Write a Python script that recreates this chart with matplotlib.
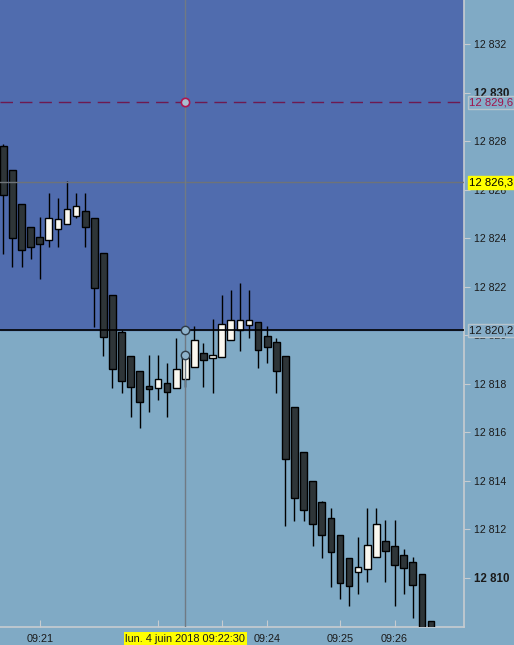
import matplotlib
matplotlib.use("Agg")
import matplotlib.pyplot as plt

opens = [12827.80, 12826.80, 12825.40, 12824.45, 12824.04, 12823.91, 12824.37, 12824.57, 12824.90, 12825.11,
         12824.82, 12823.38, 12821.65, 12820.14, 12819.13, 12818.52, 12817.90, 12817.82, 12818.02, 12817.84,
         12818.21, 12818.71, 12819.26, 12819.08, 12819.12, 12819.79, 12820.21, 12820.41, 12820.54, 12819.96,
         12819.71, 12819.13, 12817.03, 12815.18, 12813.98, 12813.12, 12812.46, 12811.76, 12810.81, 12810.23,
         12810.36, 12810.85, 12811.51, 12811.31, 12810.94, 12810.65, 12810.15, 12808.22]
highs = [12827.90, 12826.80, 12825.40, 12824.45, 12824.86, 12825.85, 12825.64, 12826.36, 12825.85, 12825.85,
         12824.82, 12823.38, 12821.65, 12820.20, 12819.13, 12818.52, 12819.19, 12819.19, 12818.85, 12819.88,
         12819.30, 12820.38, 12819.67, 12820.66, 12821.66, 12821.87, 12822.14, 12821.87, 12820.54, 12820.38,
         12819.89, 12819.13, 12817.03, 12815.18, 12813.98, 12813.17, 12812.87, 12811.76, 12810.81, 12811.68,
         12812.87, 12812.87, 12812.38, 12812.38, 12811.18, 12810.85, 12810.15, 12808.22]
lows = [12823.35, 12822.83, 12822.83, 12823.16, 12822.33, 12823.65, 12823.65, 12824.57, 12824.85, 12823.65,
        12820.35, 12819.16, 12817.84, 12817.63, 12816.65, 12816.18, 12816.85, 12817.35, 12816.65, 12817.84,
        12817.86, 12818.71, 12817.86, 12817.63, 12819.12, 12819.79, 12819.37, 12819.88, 12818.66, 12818.85,
        12817.63, 12812.15, 12812.36, 12812.36, 12811.33, 12810.84, 12809.64, 12809.15, 12808.86, 12809.35,
        12809.85, 12810.85, 12809.85, 12808.86, 12809.35, 12808.36, 12807.30, 12807.40]
closes = [12825.80, 12824.00, 12823.50, 12823.63, 12823.75, 12824.82, 12824.78, 12825.19, 12825.32, 12824.47,
          12821.96, 12819.92, 12818.60, 12818.13, 12817.88, 12817.26, 12817.77, 12818.19, 12817.68, 12818.60,
          12819.09, 12819.79, 12818.97, 12819.18, 12820.45, 12820.62, 12820.62, 12820.62, 12819.38, 12819.51,
          12818.52, 12814.92, 12813.31, 12812.81, 12812.24, 12811.78, 12811.08, 12809.81, 12809.68, 12810.44,
          12811.35, 12812.21, 12811.10, 12810.52, 12810.40, 12809.70, 12807.50, 12807.60]

time_tick_idx = [4, 17, 24, 29, 37, 43]
time_tick_labels = ["09:21", "", "", "09:24", "09:25", "09:26"]

level_dashed = 12829.6
level_gray = 12826.3
level_black = 12820.2
cross_idx = 20
cross_marks = [12829.6, 12820.2, 12819.19]
cross_label = "lun. 4 juin 2018 09:22:30"

y_ticks = list(range(12810, 12833, 2))
bold_ticks = [12810, 12830]

BLUE = "#506CAE"
LIGHT = "#80AAC5"
DARK = "#2E3538"
WHITE = "#FAF8F0"
AXC = "#C8CCD0"

W, H = 514, 645
fig = plt.figure(figsize=(W / 100, H / 100), dpi=100, facecolor=LIGHT)
ax = fig.add_axes([0, 18 / H, 464 / W, 627 / H])
ax.set_facecolor(LIGHT)

ymin, ymax = 12807.98, 12833.815
ax.set_ylim(ymin, ymax)
ax.set_xlim(-0.363, 50.63)

ax.axhspan(level_black, ymax, color=BLUE, zorder=0)

xs = list(range(len(opens)))
ax.vlines(xs, lows, highs, color="black", lw=1.0, zorder=2)
for i in xs:
    o, c = opens[i], closes[i]
    bull = c >= o
    ax.bar(i, abs(c - o) if abs(c - o) > 0.05 else 0.05, bottom=min(o, c), width=0.73,
           color=WHITE if bull else DARK, edgecolor="black", linewidth=1.0, zorder=3)

ax.axhline(level_dashed, color="#6E1A50", lw=1.0, dashes=(9, 5), zorder=4)
ax.axhline(level_gray, color="#6E7378", lw=1.0, zorder=4)
ax.axhline(level_black, color="black", lw=1.2, zorder=4)
ax.axvline(cross_idx, color="#707A84", lw=1.0, zorder=5)
ax.plot([cross_idx], [cross_marks[0]], "o", ms=6, mfc="#A8BFD0", mec="#B0164E", mew=1.2, zorder=6)
ax.plot([cross_idx] * 2, cross_marks[1:], "o", ms=6, mfc="#8FB3CC", mec="#2E3B48", mew=1.0, zorder=6)

for s in ["top", "left"]:
    ax.spines[s].set_visible(False)
for s in ["right", "bottom"]:
    ax.spines[s].set_color(AXC)
    ax.spines[s].set_linewidth(1.2)

ax.yaxis.tick_right()
ax.set_yticks(y_ticks)
ax.set_yticklabels([f"{v // 1000} {v % 1000:03d}" for v in y_ticks])
for lab, v in zip(ax.get_yticklabels(), y_ticks):
    lab.set_fontweight("bold" if v in bold_ticks else "normal")
    lab.set_fontsize(8.3 if v in bold_ticks else 7.6)
ax.tick_params(axis="y", length=4, color=AXC, pad=3, labelcolor="#1A1A1A", labelfontfamily="Liberation Sans")
ax.set_xticks(time_tick_idx)
ax.set_xticklabels(time_tick_labels)
ax.tick_params(axis="x", length=5, direction="in", color=AXC, pad=5, labelsize=7.8,
               labelcolor="#1A1A1A", labelfontfamily="Liberation Sans")

def price_box(val, text, tcolor, fcolor, ecolor):
    ax.annotate(text, xy=(1.0, val), xycoords=("axes fraction", "data"), xytext=(5, 0),
                textcoords="offset pixels", ha="left", va="center", fontsize=8.1,
                family="Liberation Sans", color=tcolor, annotation_clip=False, zorder=10,
                bbox=dict(boxstyle="square,pad=0.12", fc=fcolor, ec=ecolor, lw=1.0))

price_box(level_dashed, "12 829,6", "#A0124A", "#86ADC8", "#B8C4CC")
price_box(level_gray, "12 826,3", "black", "#FFFF00", "#FFFF00")
price_box(level_black, "12 820,2", "#1A1A1A", "#86ADC8", "#B8C4CC")

ax.annotate(cross_label, xy=(cross_idx, 0), xycoords=("data", "axes fraction"), xytext=(0, -12),
            textcoords="offset pixels", ha="center", va="center", fontsize=7.9,
            family="Liberation Sans", color="#1A1A1A", annotation_clip=False, zorder=10,
            bbox=dict(boxstyle="square,pad=0.15", fc="#FFFF00", ec="#FFFF00", lw=0))

fig.savefig("out.png", dpi=100, facecolor=LIGHT)
